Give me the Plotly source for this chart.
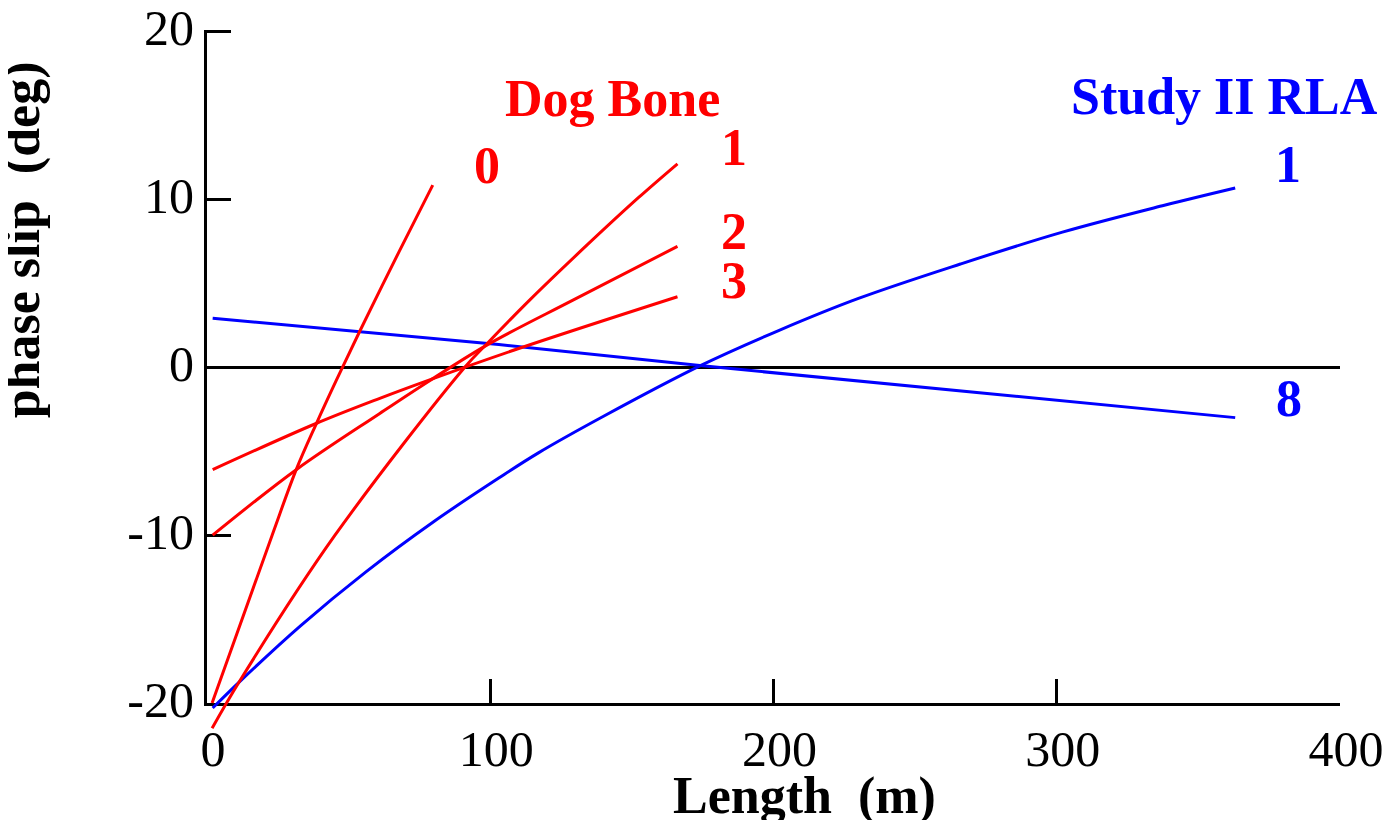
import plotly.graph_objects as go

# ---- data ----
dog0_x = [1.8, 23, 31.5, 38.5, 45.6, 53.8, 68, 79.7]
dog0_y = [-20.0, -10.0, -6.1, -3.4, -0.8, 2.1, 6.95, 10.85]

dog1_x = [1.8, 11.5, 45, 91, 99.1, 113.9, 134.3, 152.3, 166.1]
dog1_y = [-21.5, -18.7, -10.05, 0.0, 1.45, 4.0, 7.3, 10.1, 12.12]

dog2_x = [2, 31.5, 61, 78.6, 99.1, 129.2, 166.1]
dog2_y = [-10.0, -6.1, -2.75, -0.8, 1.35, 4.0, 7.2]

dog3_x = [2, 38.5, 61, 78.6, 110.3, 166.1]
dog3_y = [-6.1, -3.35, -1.85, -0.75, 1.13, 4.2]

rla1_x = [2, 12, 33, 56, 80, 103, 117, 140, 174, 202, 230, 266, 302, 338, 363]
rla1_y = [-20.3, -18.65, -15.4, -12.2, -9.2, -6.6, -5.1, -2.92, 0.08, 2.2, 4.1, 6.15, 8.05, 9.65, 10.68]

rla8_x = [2, 54, 103, 174, 363]
rla8_y = [2.92, 2.12, 1.35, 0.1, -3.0]

x_ticks = [0, 100, 200, 300, 400]
y_ticks = [-20, -10, 0, 10, 20]

RED = "#ff0000"
BLUE = "#0000ff"
FONT = "Liberation Serif"

fig = go.Figure()

# blue 8 on main subplot
fig.add_trace(go.Scatter(x=rla8_x, y=rla8_y, mode="lines",
                         line=dict(color=BLUE, width=3), xaxis="x", yaxis="y",
                         showlegend=False, hoverinfo="skip"))
# remaining curves on an overlay subplot that extends a bit below the axis
for xs, ys, c in [(rla1_x, rla1_y, BLUE), (dog0_x, dog0_y, RED), (dog1_x, dog1_y, RED),
                  (dog2_x, dog2_y, RED), (dog3_x, dog3_y, RED)]:
    fig.add_trace(go.Scatter(x=xs, y=ys, mode="lines",
                             line=dict(color=c, width=3, shape="spline", smoothing=1.0),
                             xaxis="x2", yaxis="y2", showlegend=False, hoverinfo="skip"))

# page body has an 8px margin; compensate so the plot lands where the reference has it
OFF = 8
scale = 672 / 40.0       # px per degree
top_pad = 1.5            # px of range above 20 so the top tick is kept
W, HT = 1395 - OFF, 820 - OFF
L, T = 207 - OFF, 31 - OFF - top_pad
PW = 1133
R = W - L - PW
ext = 35  # px extension below x axis
H = 672 + top_pad + ext
B = HT - T - H
dom0 = ext / H
ytop = 20 + top_pad / scale

fig.update_layout(
    width=W, height=HT,
    margin=dict(l=L, r=R, t=T, b=B, autoexpand=False),
    paper_bgcolor="white", plot_bgcolor="rgba(0,0,0,0)",
    font=dict(family=FONT, color="black", size=50),
    xaxis=dict(range=[0, 400], domain=[0, 1], anchor="y", showline=True, linecolor="black", linewidth=3,
               ticks="inside", ticklen=24, tickwidth=3, tickcolor="black",
               tickvals=x_ticks, ticktext=[str(v) for v in x_ticks], automargin=False,
               showgrid=False, zeroline=False, tickfont=dict(family=FONT, size=50),
               ticklabelshift=6, ticklabeloverflow="allow"),
    yaxis=dict(range=[-20, ytop], domain=[dom0, 1], anchor="x", showline=True, linecolor="black", linewidth=3,
               ticks="inside", ticklen=24, tickwidth=3, tickcolor="black",
               tickvals=y_ticks, ticktext=[str(v) for v in y_ticks], automargin=False,
               showgrid=False, zeroline=True, zerolinecolor="black", zerolinewidth=3,
               tickfont=dict(family=FONT, size=50), ticklabeloverflow="allow",
               ticklabelshift=-4),
    xaxis2=dict(range=[0, 400], domain=[0, 1], anchor="y2", visible=False, showgrid=False,
                zeroline=False, automargin=False),
    yaxis2=dict(range=[-20 - ext / scale, ytop], domain=[0, 1], anchor="x2", visible=False,
                showgrid=False, zeroline=False, automargin=False),
)

def ann(text, x, y, color, size=52, xref="x", yref="y", angle=0):
    fig.add_annotation(text="<b>%s</b>" % text, x=x, y=y, xref=xref, yref=yref,
                       showarrow=False, textangle=angle, xanchor="center", yanchor="middle",
                       font=dict(family=FONT, size=size, color=color))

dy = 0.22
ann("Dog Bone", 143.2, 15.8 + dy, RED)
ann("0", 98.9, 11.8 + dy, RED)
ann("1", 185.9, 12.9 + dy, RED)
ann("2", 186.1, 7.85 + dy, RED)
ann("3", 186.1, 4.95 + dy, RED)
ann("Study II RLA", 359.2, 15.9 + dy, BLUE)
ann("1", 381.8, 11.85 + dy, BLUE)
ann("8", 382.0, -2.1 + dy, BLUE)

# axis titles (positions in page pixels converted to paper fractions)
def px_to_paper(px, py):
    return (px - OFF - L) / PW, (T + H - (py - OFF)) / H

xt = px_to_paper(805, 796)
yt = px_to_paper(22, 240)
ann("Length\u00a0\u00a0(m)", xt[0], xt[1], "black", xref="paper", yref="paper")
ann("phase slip\u00a0\u00a0(deg)", yt[0], yt[1], "black", xref="paper", yref="paper", angle=-90)

fig.write_html("out.html")
